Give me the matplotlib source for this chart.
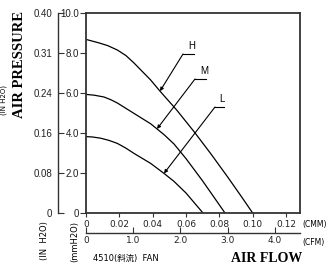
import numpy as np
import matplotlib
matplotlib.use('Agg')
import matplotlib.pyplot as plt

# fan curves, flow in CMM, static pressure in mmH2O
flow_h = [0, 0.008, 0.013, 0.0188, 0.024, 0.0288, 0.0388, 0.0438, 0.0544, 0.065, 0.075, 0.085, 0.093, 0.10]
pres_h = [8.68, 8.5, 8.37, 8.15, 7.87, 7.5, 6.65, 6.15, 5.15, 4.05, 2.95, 1.8, 0.85, 0]
flow_m = [0, 0.005, 0.0108, 0.015, 0.0188, 0.0288, 0.0388, 0.0468, 0.0528, 0.06, 0.07, 0.0834]
pres_m = [5.93, 5.89, 5.8, 5.66, 5.5, 4.98, 4.46, 3.92, 3.45, 2.72, 1.6, 0]
flow_l = [0, 0.004, 0.0088, 0.0138, 0.0188, 0.0238, 0.0288, 0.0388, 0.0468, 0.0528, 0.06, 0.0702]
pres_l = [3.82, 3.8, 3.74, 3.63, 3.48, 3.25, 2.98, 2.48, 1.98, 1.58, 1.0, 0]

mm_ticks = [0, 2, 4, 6, 8, 10]
mm_labels = ['0', '2.0', '4.0', '6.0', '8.0', '10.0']
in_labels = ['0', '0.08', '0.16', '0.24', '0.31', '0.40']
cmm_ticks = [0, 0.02, 0.04, 0.06, 0.08, 0.10, 0.12]
cmm_labels = ['0', '0.02', '0.04', '0.06', '0.08', '0.10', '0.12']
cfm_ticks = [0, 1, 2, 3, 4]
cfm_labels = ['0', '1.0', '2.0', '3.0', '4.0']

narrow = ['Liberation Sans Narrow', 'Liberation Sans', 'DejaVu Sans']
serif = ['Liberation Serif', 'DejaVu Serif']

fig = plt.figure(figsize=(3.33, 2.67), dpi=100)
W, H = 333, 267
ax = fig.add_axes([86 / W, 1 - 213 / H, 214 / W, 200 / H])
ax.set_xlim(0, 0.1284)
ax.set_ylim(0, 10)

for fl, pr in [(flow_h, pres_h), (flow_m, pres_m), (flow_l, pres_l)]:
    ax.plot(fl, pr, color='black', lw=0.9, solid_joinstyle='round')

for s in ax.spines.values():
    s.set_color('#333333')
    s.set_linewidth(1.3)

# mmH2O axis (left spine)
ax.set_yticks(mm_ticks)
ax.set_yticklabels(mm_labels, fontfamily=narrow, fontsize=7)
ax.tick_params(axis='y', direction='out', length=4, width=0.8, pad=1, colors='#333333', labelcolor='#222222')

# CMM axis
ax.set_xticks(cmm_ticks)
ax.set_xticklabels(cmm_labels, fontsize=6.5)
ax.tick_params(axis='x', direction='out', length=3, width=0.8, pad=2, colors='#333333', labelcolor='#222222')

# inch axis, further left
sec_y = ax.secondary_yaxis(-28 / 214)
sec_y.set_yticks(mm_ticks)
sec_y.set_yticklabels(in_labels, fontfamily=narrow, fontsize=7)
sec_y.tick_params(direction='in', length=4, width=0.8, pad=4, colors='#333333', labelcolor='#222222')
sec_y.spines['left'].set_linewidth(1.0)
sec_y.spines['left'].set_color('#333333')

# CFM axis below
cmm_per_cfm = 0.0283168
sec_x = ax.secondary_xaxis(-20 / 200, functions=(lambda x: x / cmm_per_cfm, lambda x: x * cmm_per_cfm))
sec_x.set_xticks(cfm_ticks)
sec_x.set_xticklabels(cfm_labels, fontsize=6.5)
sec_x.tick_params(direction='in', length=4, width=0.8, pad=2, colors='#333333', labelcolor='#222222')
sec_x.spines['bottom'].set_linewidth(1.0)
sec_x.spines['bottom'].set_color('#333333')

# curve labels with leader arrows
leaders = [('H', flow_h, pres_h, 0.0444, (0.0582, 7.95), 0.0066),
           ('M', flow_m, pres_m, 0.0426, (0.0654, 6.7), 0.0066),
           ('L', flow_l, pres_l, 0.0468, (0.0774, 5.3), 0.0054)]
for name, fl, pr, xt, elbow, ul in leaders:
    tip = (xt, np.interp(xt, fl, pr))
    ax.annotate('', xy=tip, xytext=elbow,
                arrowprops=dict(arrowstyle='-|>', lw=0.8, color='black',
                                shrinkA=0, shrinkB=0, mutation_scale=5))
    ax.plot([elbow[0], elbow[0] + ul], [elbow[1], elbow[1]], color='black', lw=0.8)
    ax.text(elbow[0] + ul * 0.8, elbow[1] + 0.15, name, ha='center', va='bottom',
            fontsize=7, fontfamily=narrow)

# surrounding texts
fig.text(20 / W, 1 - 64 / H, 'AIR PRESSURE', rotation=90, ha='center', va='center',
         fontfamily=serif, fontweight='bold', fontsize=10.5)
fig.text(4 / W, 1 - 100 / H, '(IN H2O)', rotation=90, ha='center', va='center', fontsize=5)
fig.text(45 / W, 1 - 221 / H, '(IN  H2O)', rotation=90, ha='center', va='top', fontsize=6)
fig.text(75 / W, 1 - 221 / H, '(mmH2O)', rotation=90, ha='center', va='top', fontsize=6)
fig.text(302 / W, 1 - 225 / H, '(CMM)', ha='left', va='center', fontsize=5.5)
fig.text(302 / W, 1 - 243 / H, '(CFM)', ha='left', va='center', fontsize=5.5)
fig.text(93 / W, 1 - 258 / H, '4510(斜流)  FAN', ha='left', va='center', fontsize=6,
         fontfamily=['DejaVu Sans', 'Noto Sans CJK JP'])
fig.text(302 / W, 1 - 259 / H, 'AIR FLOW', ha='right', va='center',
         fontfamily=serif, fontweight='bold', fontsize=10)

fig.savefig('out.png', dpi=100)
